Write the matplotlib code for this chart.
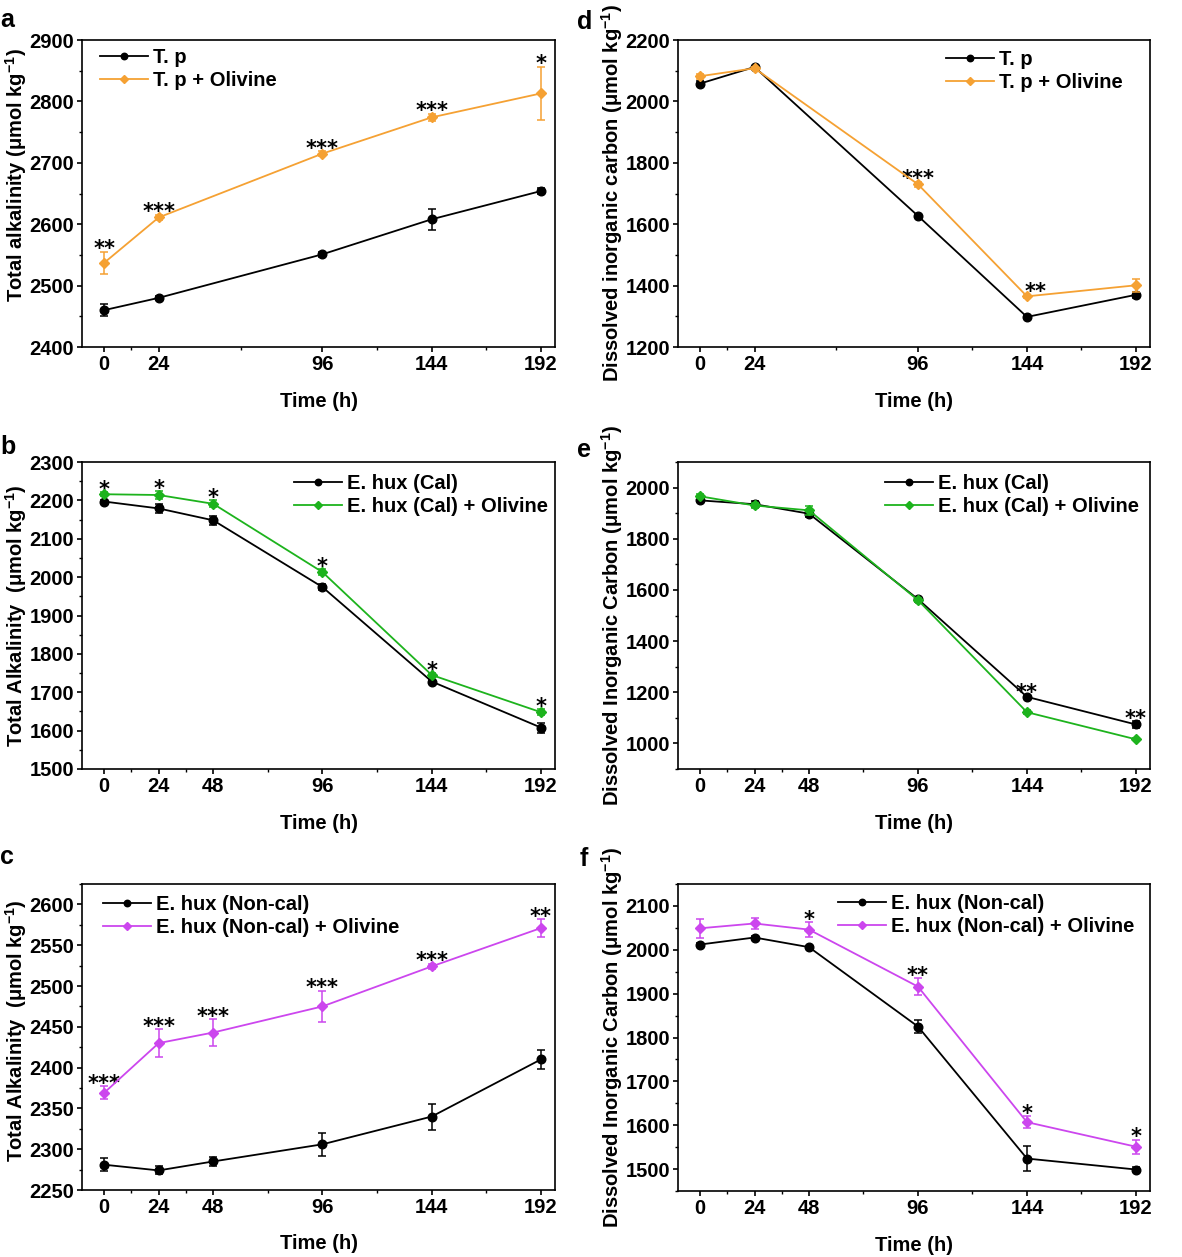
import numpy as np
import matplotlib
matplotlib.use('Agg')
import matplotlib.pyplot as plt

plt.rcParams['font.family'] = ['Liberation Sans', 'DejaVu Sans']
plt.rcParams['font.weight'] = 'bold'
plt.rcParams['mathtext.fontset'] = 'custom'
plt.rcParams['mathtext.rm'] = 'Liberation Sans:bold'
plt.rcParams['mathtext.bf'] = 'Liberation Sans:bold'
plt.rcParams['mathtext.it'] = 'Liberation Sans:bold:italic'
plt.rcParams['mathtext.default'] = 'rm'

W, H = 1182, 1257

# ---- data ----
time_ab = [0, 24, 96, 144, 192]
time_full = [0, 24, 48, 96, 144, 192]

# a: total alkalinity, T. p
ta_tp = [2460, 2480, 2551, 2608, 2654]
ta_tp_err = [10, 3, 4, 17, 5]
ta_tp_ol = [2537, 2611, 2715, 2774, 2813]
ta_tp_ol_err = [18, 4, 4, 6, 43]
ta_tp_sig = ['**', '***', '***', '***', '*']

# d: DIC, T. p
dic_tp = [2058, 2112, 1627, 1298, 1370]
dic_tp_err = [8, 4, 5, 5, 10]
dic_tp_ol = [2082, 2108, 1730, 1365, 1401]
dic_tp_ol_err = [8, 4, 8, 5, 22]
dic_tp_sig = ['', '', '***', '**', '']

# b: total alkalinity, E. hux (Cal)
ta_cal = [2197, 2179, 2148, 1974, 1728, 1608]
ta_cal_err = [5, 12, 12, 8, 4, 13]
ta_cal_ol = [2216, 2214, 2191, 2013, 1745, 1648]
ta_cal_ol_err = [5, 10, 9, 8, 5, 8]
ta_cal_sig = ['*', '*', '*', '*', '*', '*']

# e: DIC, E. hux (Cal)
dic_cal = [1950, 1935, 1898, 1564, 1182, 1074]
dic_cal_err = [8, 12, 12, 8, 5, 12]
dic_cal_ol = [1966, 1930, 1911, 1560, 1122, 1016]
dic_cal_ol_err = [8, 8, 18, 8, 8, 4]
dic_cal_sig = ['', '', '', '', '**', '**']

# c: total alkalinity, E. hux (Non-cal)
ta_non = [2281, 2274, 2285, 2306, 2340, 2410]
ta_non_err = [8, 5, 5, 14, 16, 12]
ta_non_ol = [2369, 2430, 2443, 2475, 2524, 2571]
ta_non_ol_err = [8, 17, 16, 19, 3, 11]
ta_non_sig = ['***', '***', '***', '***', '***', '**']

# f: DIC, E. hux (Non-cal)
dic_non = [2012, 2028, 2006, 1825, 1524, 1499]
dic_non_err = [4, 3, 3, 14, 29, 5]
dic_non_ol = [2049, 2060, 2046, 1916, 1607, 1551]
dic_non_ol_err = [22, 12, 17, 19, 13, 16]
dic_non_sig = ['', '', '*', '**', '*', '*']

ORANGE = '#F5A133'
GREEN = '#1DB31D'
MAGENTA = '#CC46EE'
FS = 14.5

fig = plt.figure(figsize=(W / 100, H / 100), dpi=100)


def make_axes(l, t, r, b):
    return fig.add_axes([l / W, 1 - b / H, (r - l) / W, (b - t) / H])


def style_axes(ax, xt, ylim, ystep, ylabel, ylab_y=0.5):
    ax.set_xlim(-9.7, 198.2)
    ax.set_xticks(xt)
    ax.set_xticks([(a + b) / 2 for a, b in zip(xt[:-1], xt[1:])], minor=True)
    lo = ylim[0] if ylim[0] % ystep == 0 else ylim[0] + (ystep - ylim[0] % ystep)
    ax.set_yticks(np.arange(lo, ylim[1] + 1, ystep))
    ax.set_yticks(np.arange(lo - ystep / 2, ylim[1] + 1, ystep / 2), minor=True)
    ax.set_ylim(*ylim)
    ax.tick_params(which='major', direction='out', length=3.6, width=1.2,
                   labelsize=FS, pad=2)
    ax.tick_params(which='minor', direction='out', length=2.2, width=1.0)
    for s in ax.spines.values():
        s.set_linewidth(1.2)
    for lab in ax.get_xticklabels() + ax.get_yticklabels():
        lab.set_fontweight('bold')
    ax.set_xlabel('Time (h)', fontsize=FS, fontweight='bold')
    ax.xaxis.set_label_coords(0.5, -0.145)
    ax.set_ylabel(ylabel, fontsize=FS, fontweight='bold')
    ax.yaxis.set_label_coords(-0.113, ylab_y)


def draw_pair(ax, x, y1, e1, y2, e2, c2, sig, sig_dx=None):
    h1 = ax.errorbar(x, y1, yerr=e1, color='black', marker='o', markersize=6.2,
                     lw=1.3, elinewidth=1.1, capsize=3, capthick=1.1, zorder=3)
    h2 = ax.errorbar(x, y2, yerr=e2, color=c2, marker='D', markersize=5.6,
                     lw=1.3, elinewidth=1.1, capsize=3, capthick=1.1, zorder=4)
    if sig_dx is None:
        sig_dx = [0] * len(x)
    for xi, a, ea, b, eb, s, dx in zip(x, y1, e1, y2, e2, sig, sig_dx):
        if not s:
            continue
        top = max(a + ea, b + eb)
        ax.annotate(s, (xi, top), xytext=(dx, -2.5), textcoords='offset points',
                    ha='center', va='baseline', fontsize=15,
                    fontweight='bold', family='DejaVu Sans')
    return h1[0], h2[0]


def add_legend(ax, handles, labels, left_px, center_px):
    ax.legend(handles, labels, loc='center left',
              bbox_to_anchor=(left_px / W, 1 - center_px / H),
              bbox_transform=fig.transFigure, frameon=False, borderpad=0,
              borderaxespad=0, handlelength=2.4, handletextpad=0.25,
              labelspacing=0.2, markerscale=0.75,
              prop={'size': FS, 'weight': 'bold'})


# a
ax_a = make_axes(82, 40, 555, 347)
hs = draw_pair(ax_a, time_ab, ta_tp, ta_tp_err, ta_tp_ol, ta_tp_ol_err, ORANGE,
               ta_tp_sig)
style_axes(ax_a, time_ab, (2400, 2900), 100,
           'Total alkalinity (μmol kg$^{-1}$)', 0.56)
add_legend(ax_a, hs, ['T. p', 'T. p + Olivine'], 100, 69)

# d
ax_d = make_axes(678, 40, 1150, 347)
hs = draw_pair(ax_d, time_ab, dic_tp, dic_tp_err, dic_tp_ol, dic_tp_ol_err,
               ORANGE, dic_tp_sig, [0, 0, 0, 6, 0])
style_axes(ax_d, time_ab, (1200, 2200), 200,
           'Dissolved inorganic carbon (μmol kg$^{-1}$)')
add_legend(ax_d, hs, ['T. p', 'T. p + Olivine'], 946, 71)

# b
ax_b = make_axes(82, 462, 555, 769)
hs = draw_pair(ax_b, time_full, ta_cal, ta_cal_err, ta_cal_ol, ta_cal_ol_err,
               GREEN, ta_cal_sig)
style_axes(ax_b, time_full, (1500, 2300), 100,
           'Total Alkalinity  (μmol kg$^{-1}$)')
add_legend(ax_b, hs, ['E. hux (Cal)', 'E. hux (Cal) + Olivine'], 294, 495)

# e
ax_e = make_axes(678, 462, 1150, 769)
hs = draw_pair(ax_e, time_full, dic_cal, dic_cal_err, dic_cal_ol, dic_cal_ol_err,
               GREEN, dic_cal_sig)
style_axes(ax_e, time_full, (900, 2100), 200,
           'Dissolved Inorganic Carbon (μmol kg$^{-1}$)')
add_legend(ax_e, hs, ['E. hux (Cal)', 'E. hux (Cal) + Olivine'], 885, 495)

# c
ax_c = make_axes(82, 884, 555, 1190)
hs = draw_pair(ax_c, time_full, ta_non, ta_non_err, ta_non_ol, ta_non_ol_err,
               MAGENTA, ta_non_sig)
style_axes(ax_c, time_full, (2250, 2625), 50,
           'Total Alkalinity  (μmol kg$^{-1}$)', 0.52)
add_legend(ax_c, hs, ['E. hux (Non-cal)', 'E. hux (Non-cal) + Olivine'], 103, 916)

# f
ax_f = make_axes(678, 884, 1150, 1191)
hs = draw_pair(ax_f, time_full, dic_non, dic_non_err, dic_non_ol, dic_non_ol_err,
               MAGENTA, dic_non_sig)
style_axes(ax_f, time_full, (1450, 2150), 100,
           'Dissolved Inorganic Carbon (μmol kg$^{-1}$)')
add_legend(ax_f, hs, ['E. hux (Non-cal)', 'E. hux (Non-cal) + Olivine'], 838, 915)

# panel letters
for letter, xp, yp in [('a', 0, 27), ('d', 577, 29), ('b', 0, 454),
                       ('e', 577, 457), ('c', 0, 864), ('f', 580, 866)]:
    fig.text(xp / W, 1 - yp / H, letter, fontsize=18, fontweight='bold',
             ha='left', va='baseline')

fig.savefig('out.png', dpi=100)
